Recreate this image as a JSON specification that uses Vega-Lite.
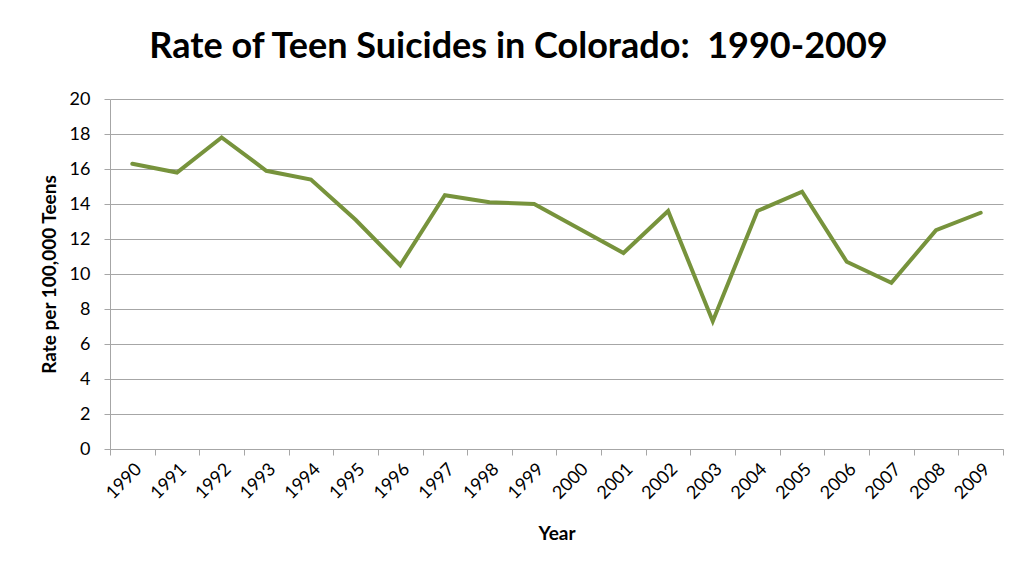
{
  "$schema": "https://vega.github.io/schema/vega-lite/v6.json",
  "width": 893,
  "height": 350,
  "autosize": "none",
  "padding": {"left": 110, "top": 99, "right": 10, "bottom": 116},
  "background": "white",
  "title": {
    "text": "Rate of Teen Suicides in Colorado:\u00a0 1990-2009",
    "font": "Lato",
    "fontSize": 36,
    "fontWeight": "bold",
    "color": "#000000",
    "anchor": "middle",
    "dx": -38,
    "offset": 24
  },
  "data": {
    "values": [
      {"Year": "1990", "Rate": 16.3},
      {"Year": "1991", "Rate": 15.8},
      {"Year": "1992", "Rate": 17.8},
      {"Year": "1993", "Rate": 15.9},
      {"Year": "1994", "Rate": 15.4},
      {"Year": "1995", "Rate": 13.1},
      {"Year": "1996", "Rate": 10.5},
      {"Year": "1997", "Rate": 14.5},
      {"Year": "1998", "Rate": 14.1},
      {"Year": "1999", "Rate": 14.0},
      {"Year": "2000", "Rate": 12.6},
      {"Year": "2001", "Rate": 11.2},
      {"Year": "2002", "Rate": 13.6},
      {"Year": "2003", "Rate": 7.3},
      {"Year": "2004", "Rate": 13.6},
      {"Year": "2005", "Rate": 14.7},
      {"Year": "2006", "Rate": 10.7},
      {"Year": "2007", "Rate": 9.5},
      {"Year": "2008", "Rate": 12.5},
      {"Year": "2009", "Rate": 13.5}
    ]
  },
  "mark": {"type": "line", "color": "#77933C", "strokeWidth": 4, "strokeJoin": "miter", "strokeCap": "round"},
  "encoding": {
    "x": {
      "field": "Year",
      "type": "ordinal",
      "scale": {"type": "band", "paddingInner": 0, "paddingOuter": 0},
      "axis": {
        "title": "Year",
        "titleFont": "Lato",
        "titleFontSize": 19,
        "titleFontWeight": "bold",
        "titleColor": "#000000",
        "titlePadding": 22,
        "labelAngle": -45,
        "labelFont": "Lato",
        "labelFontSize": 18,
        "labelColor": "#000000",
        "labelPadding": 5,
        "tickBand": "extent",
        "tickSize": 6,
        "tickColor": "#A6A6A6",
        "domainColor": "#A6A6A6",
        "grid": false
      }
    },
    "y": {
      "field": "Rate",
      "type": "quantitative",
      "scale": {"domain": [0, 20], "nice": false},
      "axis": {
        "title": "Rate per 100,000 Teens",
        "titleFont": "Lato",
        "titleFontSize": 19,
        "titleFontWeight": "bold",
        "titleColor": "#000000",
        "titlePadding": 10,
        "values": [0, 2, 4, 6, 8, 10, 12, 14, 16, 18, 20],
        "labelFont": "Lato",
        "labelFontSize": 18,
        "labelColor": "#000000",
        "labelPadding": 14,
        "tickSize": 6,
        "tickColor": "#A6A6A6",
        "domainColor": "#A6A6A6",
        "gridColor": "#A6A6A6",
        "gridWidth": 1
      }
    }
  },
  "config": {"view": {"stroke": null}}
}
